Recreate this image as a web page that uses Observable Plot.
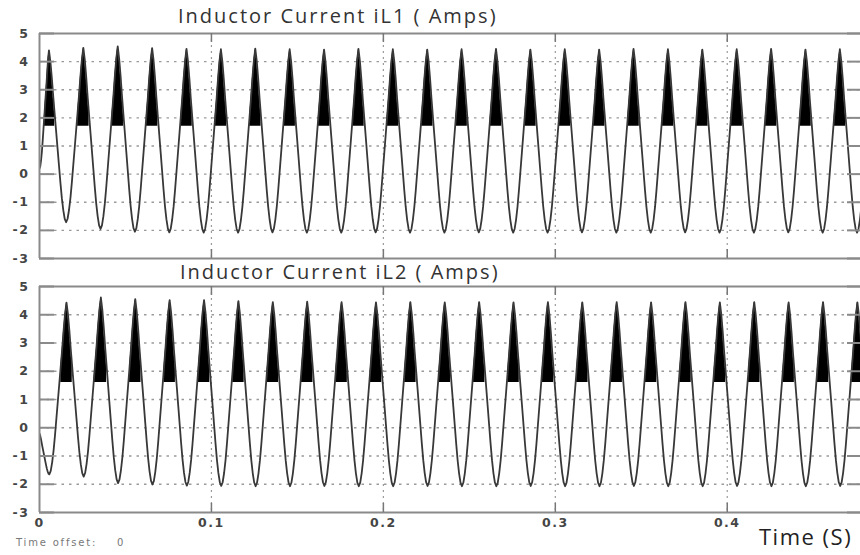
<!DOCTYPE html>
<html>
<head>
<meta charset="utf-8">
<script src="https://cdn.jsdelivr.net/npm/d3@7"></script>
<script src="https://cdn.jsdelivr.net/npm/@observablehq/plot@0.6"></script>
<style>
  html, body { margin: 0; padding: 0; background: #fff; }
  #wrap { position: relative; width: 860px; height: 555px; overflow: hidden; background: #fff; }
  #wrap svg { position: absolute; left: 0; }
  .title { position: absolute; font-family: "Open Sans", sans-serif; font-size: 20px; letter-spacing: 2px; color: #333; white-space: nowrap; z-index: 2; }
  .xlabel { position: absolute; font-family: "Open Sans", sans-serif; font-size: 22px; letter-spacing: 1.5px; color: #222; white-space: nowrap; z-index: 2; }
  .offset { position: absolute; font-family: "DejaVu Sans", sans-serif; font-size: 10px; color: #777; letter-spacing: 1.8px; white-space: nowrap; z-index: 2; }
</style>
</head>
<body>
<div id="wrap">
  <div class="title" id="t1" style="left:178px; top:2px;">Inductor Current iL1 ( Amps)</div>
  <div class="title" id="t2" style="left:180px; top:258px;">Inductor Current iL2 ( Amps)</div>
  <div class="xlabel" style="left:759px; top:521px;">Time (S)</div>
  <div class="offset" style="left:16px; top:537px;">Time offset:&nbsp;&nbsp;&nbsp;&nbsp;0</div>
</div>
<script>
// ---------- data ----------
const xTicks = [0, 0.1, 0.2, 0.3, 0.4];
const xTickLabels = ["0", "0.1", "0.2", "0.3", "0.4"];
const yTicks = [-3, -2, -1, 0, 1, 2, 3, 4, 5];
const xDomain = [0, 0.4775];
const yDomain = [-3, 5];

const period = 0.02;          // 50 Hz line current
const firstPeak1 = 0.0055;    // time of first iL1 peak (s)
const firstPeak2 = 0.0157;    // time of first iL2 peak (s)
const start1 = 0.2;           // iL1 at t = 0
const start2 = -0.2;          // iL2 at t = 0

// iL1: successive peaks and the trough after each peak
const peaks1 = [4.40, 4.49, 4.54, 4.48, 4.45, 4.44, 4.46, 4.44, 4.43, 4.45, 4.44, 4.43,
                4.44, 4.45, 4.43, 4.44, 4.43, 4.45, 4.44, 4.43, 4.44, 4.45, 4.43, 4.44, 4.44];
const troughs1 = [-1.71, -1.95, -2.05, -2.07, -2.08, -2.08, -2.07, -2.08, -2.08, -2.07, -2.08, -2.08,
                  -2.07, -2.08, -2.08, -2.07, -2.08, -2.08, -2.07, -2.08, -2.08, -2.07, -2.08, -2.08];
// iL2: successive troughs and the peak after each trough
const troughs2 = [-1.65, -1.73, -1.96, -2.01, -2.05, -2.06, -2.07, -2.07, -2.06, -2.07, -2.07, -2.06,
                  -2.07, -2.07, -2.06, -2.07, -2.07, -2.06, -2.07, -2.07, -2.06, -2.07, -2.07, -2.06, -2.07];
const peaks2 = [4.43, 4.61, 4.55, 4.52, 4.52, 4.48, 4.45, 4.46, 4.45, 4.44, 4.45, 4.44,
                4.45, 4.44, 4.45, 4.44, 4.45, 4.44, 4.45, 4.44, 4.45, 4.44, 4.45, 4.44];

// shape of one half-cycle (trough = 0 -> peak = 1), read off a single swing:
// rounded trough, steep nearly straight flanks, narrow peak
const halfCycleShape = [0, 0.02, 0.07, 0.14, 0.23, 0.33, 0.43, 0.53, 0.63, 0.73, 0.84, 0.935, 1];
// lower edge of the dense switching ripple band near each peak
const rippleFloor1 = 1.7;
const rippleFloor2 = 1.6;

// ---------- build tables ----------
function extremes1() {
  const e = [{t: 0, v: start1}];
  for (let k = 0; k < peaks1.length; k++) {
    e.push({t: firstPeak1 + k * period, v: peaks1[k]});
    if (k < troughs1.length) e.push({t: firstPeak1 + k * period + period / 2, v: troughs1[k]});
  }
  return e;
}
function extremes2() {
  const e = [{t: 0, v: start2}];
  for (let k = 0; k < troughs2.length; k++) {
    e.push({t: firstPeak2 - period / 2 + k * period, v: troughs2[k]});
    if (k < peaks2.length) e.push({t: firstPeak2 + k * period, v: peaks2[k]});
  }
  return e;
}
function trace(ext) {
  const n = halfCycleShape.length - 1;
  const out = [];
  for (let j = 0; j < ext.length - 1; j++) {
    const a = ext[j], b = ext[j + 1];
    for (let i = (j === 0 ? 0 : 1); i <= n; i++) {
      const t = a.t + (b.t - a.t) * i / n;
      const v = b.v > a.v
        ? a.v + (b.v - a.v) * halfCycleShape[i]
        : b.v + (a.v - b.v) * halfCycleShape[n - i];
      out.push({t, v});
    }
  }
  return out;
}
const series1 = trace(extremes1());
const series2 = trace(extremes2());

// ---------- drawing ----------
const W = 860, ML = 39, MR = 0;
const plotW = W - ML - MR;
const gridColor = "#9a9a9a";
const frameColor = "#8a8a8a";

function panel(series, floor, {height, marginTop, marginBottom, showX}) {
  const plotH = height - marginTop - marginBottom;
  const marks = [
    Plot.ruleY(yTicks.filter(d => d > yDomain[0] && d < yDomain[1]),
      {stroke: gridColor, strokeWidth: 1.3, strokeDasharray: "2.5,5"}),
    Plot.ruleX(xTicks.filter(d => d > xDomain[0]),
      {stroke: gridColor, strokeWidth: 1.2, strokeDasharray: "2,4"}),
    Plot.areaY(series, {x: "t", y1: () => floor, y2: d => d.v > floor ? d.v : NaN,
      fill: "#000", clip: true}),
    Plot.line(series, {x: "t", y: "v", stroke: "#383838", strokeWidth: 1.8, clip: true}),
    // frame: left, top, bottom
    Plot.ruleY(yDomain, {stroke: frameColor, strokeWidth: 2}),
    Plot.ruleX([xDomain[0]], {stroke: frameColor, strokeWidth: 2}),
    // inward ticks
    Plot.tickY(yTicks, {y: d => d, stroke: frameColor, strokeWidth: 2, insetRight: plotW - 15}),
    Plot.tickY(yTicks, {y: d => d, stroke: frameColor, strokeWidth: 2, insetLeft: plotW - 13}),
    Plot.tickX(xTicks.filter(d => d > 0), {x: d => d, stroke: "#777", strokeWidth: 1.5, insetBottom: plotH - 9}),
    Plot.tickX(xTicks.filter(d => d > 0), {x: d => d, stroke: "#777", strokeWidth: 1.5, insetTop: plotH - 9}),
    Plot.axisY(yTicks, {tickSize: 0, tickPadding: 10, tickFormat: d => String(d), label: null})
  ];
  if (showX) {
    marks.push(Plot.axisX(xTicks, {tickSize: 0, tickPadding: 6,
      tickFormat: d => xTickLabels[xTicks.indexOf(d)], label: null}));
  }
  return Plot.plot({
    width: W, height, marginLeft: ML, marginRight: MR, marginTop, marginBottom,
    x: {domain: xDomain, axis: null},
    y: {domain: yDomain, axis: null},
    style: {background: "transparent", fontFamily: "DejaVu Sans", fontSize: "12.5px",
            fontWeight: "bold", color: "#454545", overflow: "visible", letterSpacing: "1.5px"},
    marks
  });
}

const wrap = document.getElementById("wrap");
const p1 = panel(series1, rippleFloor1, {height: 262, marginTop: 33, marginBottom: 4, showX: false});
p1.style.top = "0px";
const p2 = panel(series2, rippleFloor2, {height: 303, marginTop: 34, marginBottom: 43, showX: true});
p2.style.top = "252px";
wrap.insertBefore(p1, wrap.firstChild);
wrap.insertBefore(p2, p1.nextSibling);
</script>
</body>
</html>
